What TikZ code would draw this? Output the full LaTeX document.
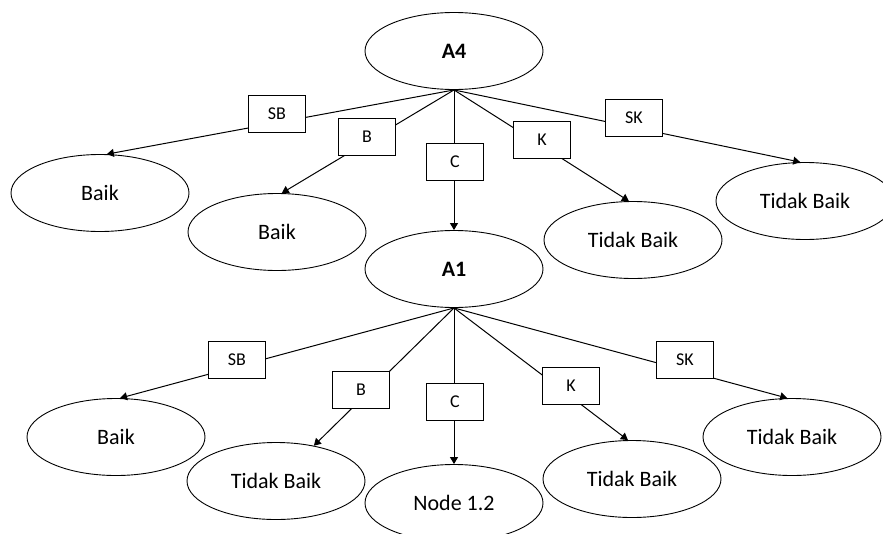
\documentclass[tikz,border=0pt]{standalone}
\usepackage{fontspec}
\setmainfont{Carlito}
\usetikzlibrary{shapes.geometric,arrows.meta}
\begin{document}
\begin{tikzpicture}[x=1pt,y=-1pt,
  state/.style={ellipse,draw,line width=0.9pt,minimum width=178pt,minimum height=77pt,
    inner sep=0pt,font=\fontsize{22}{26}\selectfont},
  root/.style={state,font=\fontsize{22}{26}\selectfont\bfseries},
  lbl/.style={rectangle,draw,fill=white,line width=0.9pt,minimum width=57pt,
    minimum height=37pt,inner sep=0pt,font=\fontsize{18}{22}\selectfont},
  edge/.style={line width=1pt},
  arr/.style={edge,-{Triangle[width=8pt,length=7pt]}}
]
\useasboundingbox (0,0) rectangle (883,533);
\clip (0,0) rectangle (883,533);

% decision nodes and leaves
\node[root]  (a4)  at (454,51)  {A4};
\node[state] (t1)  at (100,193) {Baik};
\node[state] (t2)  at (277,232) {Baik};
\node[root]  (a1)  at (454,269) {A1};
\node[state] (t4)  at (633,240) {Tidak Baik};
\node[state] (t5)  at (805,201) {Tidak Baik};
\node[state] (b1)  at (116,437) {Baik};
\node[state] (b2)  at (276,481) {Tidak Baik};
\node[state] (b3)  at (454,503) {Node 1.2};
\node[state] (b4)  at (632,479) {Tidak Baik};
\node[state] (b5)  at (792,437) {Tidak Baik};

% branches of A4
\draw[arr] (a4.south) -- (t1.80);
\draw[arr] (a4.south) -- (t2.83);
\draw[arr] (a4.south) -- (a1.north);
\draw[arr] (a4.south) -- (t4.96);
\draw[arr] (a4.south) -- (t5.97);

% branches of A1
\draw[arr] (a1.south) -- (b1.84);
\draw[arr] (a1.south) -- (b2.43);
\draw[arr] (a1.south) -- (b3.north);
\draw[arr] (a1.south) -- (b4.96);
\draw[arr] (a1.south) -- (b5.97);

% branch labels
\node[lbl] (l1) at (277,114) {SB};
\node[lbl] (l2) at (367,137) {B};
\node[lbl] (l3) at (455,162) {C};
\node[lbl] (l4) at (542,140) {K};
\node[lbl] (l5) at (634,118) {SK};

\node[lbl] (m1) at (237,360) {SB};
\node[lbl] (m2) at (361,390) {B};
\node[lbl] (m3) at (455,402) {C};
\node[lbl] (m4) at (571,386) {K};
\node[lbl] (m5) at (685,360) {SK};
\end{tikzpicture}
\end{document}
